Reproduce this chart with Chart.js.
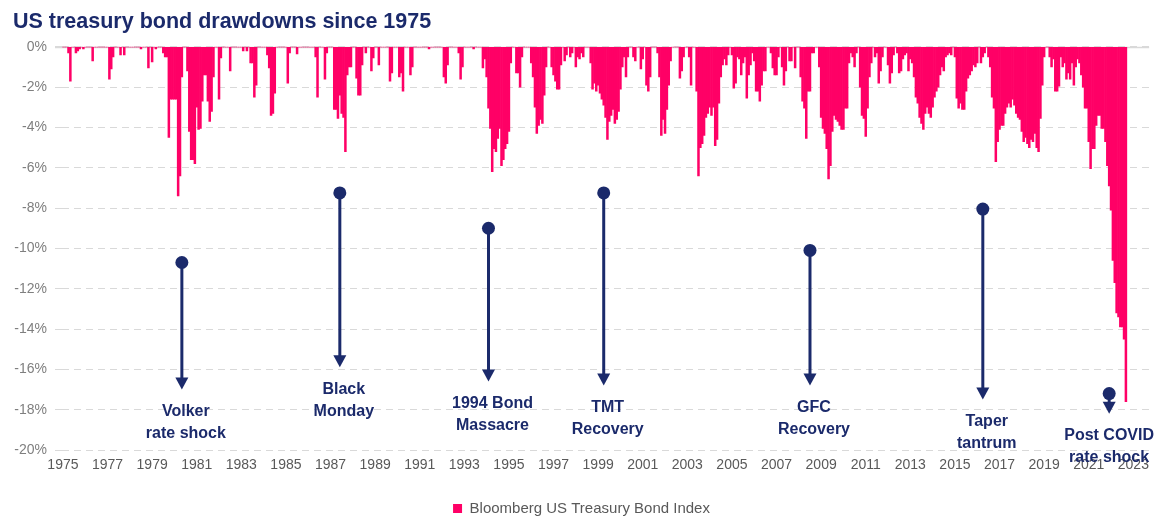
<!DOCTYPE html>
<html>
<head>
<meta charset="utf-8">
<title>US treasury bond drawdowns since 1975</title>
<script src="https://cdn.jsdelivr.net/npm/chart.js@4/dist/chart.umd.min.js"></script>
<style>
  html, body { margin: 0; padding: 0; background: #fff; }
  #wrap { width: 1156px; height: 518px; }
</style>
</head>
<body>
<div id="wrap"><canvas id="chart" width="1156" height="518"></canvas></div>
<script>
/* ── DATA: monthly drawdown of the index, % from previous peak ── */

// 1975 - 1979
const dd1970s = [
    0, 0, 0, -0.3, -1.7, 0, 0, -0.3, -0.2, -0.1, 0, -0.1,
    0, 0, 0, 0, -0.7, 0, 0, 0, 0, 0, 0, 0,
    0, -1.6, -1.1, -0.5, 0, 0, 0, -0.4, 0, -0.4, 0, 0,
    0, 0, 0, 0, 0, 0, -0.1, 0, 0, 0, -1.05, 0,
    -0.75, 0, -0.1, 0, 0, 0, -0.3, -0.5, -0.5, -4.5, -2.6, -2.6
];

// 1980 - 1989
const dd1980s = [
    -2.6, -2.6, -7.4, -6.4, -1.5, 0, 0, -1.2, -4.2, -5.6, -5.6, -5.8,
    -3.0, -4.1, -4.05, -2.7, -1.4, -1.4, -2.7, -3.7, -3.2, -1.5, 0, 0,
    -2.6, -0.55, 0, 0, 0, 0, -1.2, 0, 0, 0, 0, 0,
    0, -0.2, 0, -0.2, 0, -0.8, -0.8, -2.5, -1.9, 0, 0, 0,
    0, 0, -0.4, -1.05, -3.4, -3.3, -2.3, 0, 0, 0, 0, 0,
    0, -1.8, -0.3, 0, 0, 0, -0.35, 0, 0, 0, 0, 0,
    0, 0, 0, 0, -0.5, -2.5, 0, 0, 0, -1.6, -0.3, 0,
    0, 0, -3.1, -3.1, -3.55, -2.4, -3.3, -3.5, -5.2, -1.4, -1.0, -1.0,
    0, 0, -1.55, -2.4, -2.4, -0.9, 0, -0.3, 0, 0, -1.2, -0.55,
    0, 0, -0.9, 0, 0, 0, 0, 0, -1.7, -1.3, 0, 0
];

// 1990 - 1999
const dd1990s = [
    0, -1.5, -1.3, -2.2, 0, 0, 0, -1.4, -1.0, 0, 0, 0,
    0, 0, 0, 0, 0, -0.1, 0, 0, 0, 0, 0, 0,
    0, -1.5, -1.8, -0.9, 0, 0, 0, 0, 0, -0.3, -1.6, -1.0,
    0, 0, 0, 0, 0, -0.1, 0, 0, 0, 0, -1.05, -0.6,
    -1.5, -3.05, -4.05, -6.2, -5.05, -5.2, -4.55, -4.05, -5.9, -5.6, -5.05, -4.8,
    -4.2, -0.8, 0, 0, -1.3, -1.3, -2.0, -0.5, 0, 0, 0, 0,
    -0.8, -1.5, -3.0, -4.3, -3.9, -3.6, -3.8, -2.4, -1.0, 0, 0, -1.0,
    -1.4, -1.7, -2.1, -2.1, -0.9, 0, -0.7, -0.4, 0, -0.5, -0.3, 0,
    -1.0, -0.5, -0.6, -0.3, -0.5, 0, 0, 0, -0.8, -2.1, -1.8, -2.2,
    -1.9, -2.3, -2.6, -2.9, -3.5, -4.6, -3.7, -3.4, -3.1, -3.8, -3.6, -3.2
];

// 2000 - 2009
const dd2000s = [
    -2.1, -1.0, -0.5, -1.5, -0.5, 0, 0, -0.5, -0.7, 0, 0, -1.1,
    -0.6, 0, -1.9, -2.2, -1.5, 0, 0, 0, -0.3, -1.5, -4.4, -3.6,
    -4.3, -3.1, -1.9, -0.7, 0, 0, 0, 0, -1.55, -1.2, -0.5, 0,
    0, -0.5, -1.9, 0, 0, -2.2, -6.4, -5.0, -4.8, -4.4, -3.5, -3.3,
    -3.0, -3.4, -3.0, -4.9, -4.6, -2.8, -1.5, -0.9, -0.6, -0.9, -0.4, 0,
    -0.4, -2.05, -1.8, -0.5, -0.6, -1.4, -0.8, -0.5, -2.55, -1.4, -0.9, -0.3,
    -0.7, -2.2, -2.2, -2.7, -1.9, -1.2, -1.2, 0, 0, -0.3, -1.05, -1.4,
    -1.4, -0.5, 0, -1.0, -1.9, -1.2, 0, -0.7, -0.7, 0, -1.05, 0,
    0, -1.5, -2.7, -3.05, -4.55, -2.2, -2.2, -0.3, -0.3, 0, 0, -1.0,
    -3.5, -4.05, -4.3, -5.05, -6.55, -5.9, -4.2, -3.4, -3.6, -3.7, -3.9, -4.1
];

// 2010 - 2019
const dd2010s = [
    -4.1, -3.05, -3.05, -0.8, -0.3, -0.5, -1.0, -0.3, 0, -2.0, -3.4, -3.55,
    -4.45, -3.05, -1.5, -0.8, 0, -0.5, -0.3, -1.8, -1.2, -0.5, 0, 0,
    -0.9, -1.8, -1.3, -0.4, 0, -0.3, -1.3, -1.2, -0.6, -0.4, -0.3, -1.2,
    -0.6, -0.8, -1.5, -2.5, -2.8, -3.5, -3.8, -4.1, -3.3, -3.0, -3.3, -3.5,
    -3.0, -2.5, -2.2, -2.0, -1.4, -1.0, -1.2, -0.5, -0.4, -0.3, -0.4, 0,
    -0.5, -2.55, -3.05, -2.8, -3.1, -3.1, -2.2, -1.55, -1.4, -1.2, -0.9, -1.0,
    -0.8, 0, -0.8, -0.5, -0.3, 0, -0.5, -1.0, -2.5, -3.05, -5.7, -4.7,
    -4.1, -3.9, -3.9, -3.3, -3.0, -2.8, -3.0, -2.6, -2.9, -3.3, -3.5, -3.6,
    -4.2, -4.7, -4.5, -4.8, -5.0, -4.6, -4.7, -4.3, -5.0, -5.2, -3.55, -1.9,
    -0.5, 0, 0, -0.5, -1.0, -0.6, -2.2, -2.2, -1.95, -0.5, -1.0, -0.8
];

// 2020 - Sep 2022
const dd2020s = [
    -1.6, -1.3, -1.6, -0.8, -1.9, -1.0, -0.6, -0.8, -1.4, -2.0, -3.05, -3.05,
    -4.7, -6.05, -5.05, -5.05, -3.9, -3.4, -3.4, -4.05, -4.05, -4.7, -5.9, -6.9,
    -8.1, -10.6, -11.7, -13.2, -13.4, -13.9, -13.9, -14.5, -17.6
];

const drawdowns = [].concat(dd1970s, dd1980s, dd1990s, dd2000s, dd2010s, dd2020s);

// x categories: one per month, Jan 1975 .. Sep 2023
const monthLabels = [];
for (let yr = 1975; yr <= 2023; yr++) {
    for (let m = 1; m <= 12; m++) {
        if (yr === 2023 && m > 9) break;
        monthLabels.push(yr + '-' + String(m).padStart(2, '0'));
    }
}

const yearTicks = ['1975', '1977', '1979', '1981', '1983', '1985', '1987', '1989', '1991', '1993',
    '1995', '1997', '1999', '2001', '2003', '2005', '2007', '2009', '2011', '2013',
    '2015', '2017', '2019', '2021', '2023'];

// annotated episodes
const eventNames = [
    ['Volker', 'rate shock'],
    ['Black', 'Monday'],
    ['1994 Bond', 'Massacre'],
    ['TMT', 'Recovery'],
    ['GFC', 'Recovery'],
    ['Taper', 'tantrum'],
    ['Post COVID', 'rate shock']
];
const eventMonths = ['1980-05', '1987-06', '1994-02', '1999-04', '2008-07', '2016-04', '2021-12'];
const eventStart = [-10.7, -7.25, -9.0, -7.25, -10.1, -8.05, -17.2];
const eventEnd = [-17.0, -15.9, -16.6, -16.8, -16.8, -17.5, -18.2];

/* ── STYLE ── */
const NAVY = '#1B2A6B';
const PINK = '#FF0066';
const GRID = '#D9D9D9';
const FONT = '"Liberation Sans", Arial, sans-serif';

Chart.defaults.font.family = FONT;

// solid baseline at 0%
const zeroLine = {
    id: 'zeroLine',
    beforeDatasetsDraw(chart) {
        const { ctx, chartArea, scales: { y } } = chart;
        const py = Math.round(y.getPixelForValue(0)) + 0.5;
        ctx.save();
        ctx.strokeStyle = GRID;
        ctx.lineWidth = 1.5;
        ctx.beginPath();
        ctx.moveTo(chartArea.left - 7, py);
        ctx.lineTo(chartArea.right, py);
        ctx.stroke();
        ctx.restore();
    }
};

// dot + arrow + caption for each episode
const eventMarkers = {
    id: 'eventMarkers',
    afterDatasetsDraw(chart) {
        const { ctx, scales: { x, y } } = chart;
        ctx.save();
        ctx.strokeStyle = NAVY;
        ctx.fillStyle = NAVY;
        ctx.lineWidth = 3;
        ctx.font = 'bold 16px ' + FONT;
        ctx.textAlign = 'center';
        ctx.textBaseline = 'middle';
        eventNames.forEach((lines, i) => {
            const px = x.getPixelForValue(monthLabels.indexOf(eventMonths[i]));
            const top = y.getPixelForValue(eventStart[i]);
            const tip = y.getPixelForValue(eventEnd[i]);
            ctx.beginPath();
            ctx.moveTo(px, top);
            ctx.lineTo(px, tip - 10);
            ctx.stroke();
            ctx.beginPath();
            ctx.moveTo(px - 6.5, tip - 12);
            ctx.lineTo(px + 6.5, tip - 12);
            ctx.lineTo(px, tip);
            ctx.closePath();
            ctx.fill();
            ctx.beginPath();
            ctx.arc(px, top, 6.5, 0, Math.PI * 2);
            ctx.fill();
            // keep captions inside the canvas
            const half = Math.max(...lines.map(t => ctx.measureText(t).width)) / 2;
            const cx = Math.min(px + 4, chart.width - 2 - half);
            lines.forEach((t, j) => ctx.fillText(t, cx, tip + 22 + j * 22));
        });
        ctx.restore();
    }
};

new Chart(document.getElementById('chart').getContext('2d'), {
    type: 'bar',
    data: {
        labels: monthLabels,
        datasets: [{
            label: 'Bloomberg US Treasury Bond Index',
            data: drawdowns,
            backgroundColor: PINK,
            borderWidth: 0,
            barPercentage: 1,
            categoryPercentage: 1
        }]
    },
    options: {
        responsive: false,
        animation: false,
        layout: { padding: { left: 13, right: 6, top: 0, bottom: -8 } },
        plugins: {
            title: {
                display: true,
                text: 'US treasury bond drawdowns since 1975',
                align: 'start',
                color: NAVY,
                font: { size: 21.5, weight: 'bold' },
                padding: { top: 9, bottom: 12 }
            },
            legend: {
                position: 'bottom',
                labels: { boxWidth: 9, boxHeight: 9, color: '#595959', font: { size: 15 } }
            },
            tooltip: { enabled: false }
        },
        scales: {
            x: {
                grid: { display: false, drawTicks: false },
                border: { display: false },
                ticks: {
                    autoSkip: false,
                    maxRotation: 0,
                    padding: 7,
                    color: '#595959',
                    font: { size: 14 },
                    callback(value, index) {
                        const lab = monthLabels[index];
                        const yr = lab.slice(0, 4);
                        return lab.endsWith('-01') && yearTicks.includes(yr) ? yr : null;
                    }
                },
                afterFit(scale) { scale.height = 41; }
            },
            y: {
                min: -20,
                max: 0,
                ticks: {
                    stepSize: 2,
                    padding: 8,
                    color: '#7F7F7F',
                    font: { size: 14 },
                    callback: v => v + '%'
                },
                grid: { color: GRID, lineWidth: 1, drawTicks: true, tickLength: 7 },
                border: { display: false, dash: [7, 5] },
                afterFit(scale) { scale.width = 49; }
            }
        }
    },
    plugins: [zeroLine, eventMarkers]
});
</script>
</body>
</html>
